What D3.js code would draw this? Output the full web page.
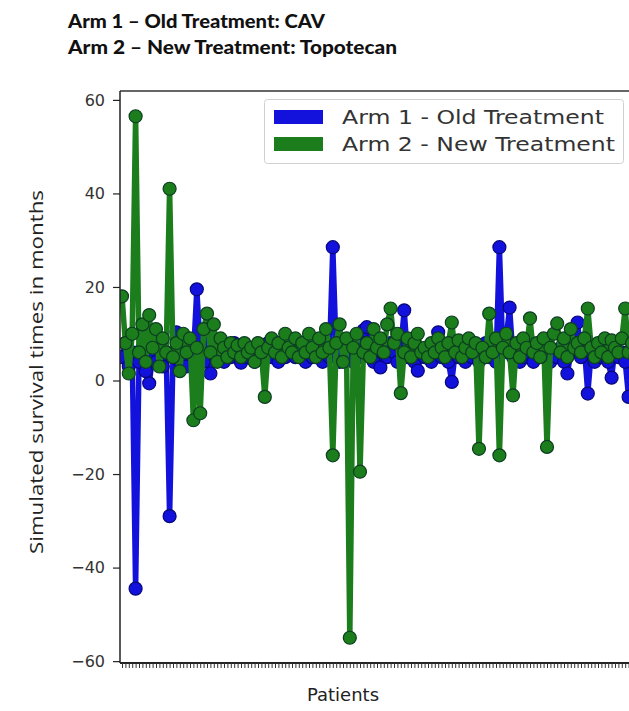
<!DOCTYPE html>
<html><head><meta charset="utf-8">
<script src="https://cdn.jsdelivr.net/npm/d3@7"></script>
<style>body{margin:0;background:#fff}svg{display:block}</style>
</head><body>
<script>
const titleLines = ["Arm 1 \u2013 Old Treatment: CAV", "Arm 2 \u2013 New Treatment: Topotecan"];
const seriesNames = ["Arm 1 - Old Treatment", "Arm 2 - New Treatment"];
const yTicks = [60, 40, 20, 0, -20, -40, -60];
const arm1 = [5,8,3,6,-44.5,4,7,2,-0.6,5,4,9,3,6,-29,5,10.3,4,7,3,6,5,19.5,7,4,8,1.5,6,5,7,
4,6,5,8,6,3.8,7,5,6,4,7,5,6,8,5,7,4,6,5,7,6,5,7.9,6,4,7,5,8,6,4,
7,5,28.5,6,4,8,5,7,4,6,5,10.7,11.4,6,4,7,2.8,6,5,8,6,4,7,15,5,7,4,2.1,6,5,
7,4,6,10.3,5,7,4,-0.3,6,5,7,4,6,5,7,4,6,8,5,7,4,28.5,6,9,15.6,5,7,4,6,5,
7,4,6,8,5,7,4,6,5,7,4,1.5,6,8,12.4,5,7,-2.8,6,4,7,5,6,4,0.6,7,5,6,4,-3.5,
6,5];
const arm2 = [18,8,1.5,10,56.5,6,12,4,14,7,11,3,9,6,41,5,8,2,10,6,9,-8.5,7,-7,11,14.3,6,12,4,9,
7,5,8,6,7.5,5,8,6,7,4,8,6,-3.5,7,9,6,8,5,10,7,6,9,5,8,6,10,7,5,9,6,
11,7,-16,8,12,4,9,-55,7,10,-19.5,6,8,5,11,7,9,6,12,15.4,8,10,-2.7,6,9,5,8,10,6,7,
5,8,6,9,7,5,8,12.4,6,8.6,5,7,9,6,8,-14.6,7,5,14.3,6,9,-16,7,10,6,-3.2,8,5,9,7,
13.3,6,8,5,9,-14.2,7,10,12.2,6,9,5,11,7,8,6,9,15.4,7,5,8,6,9,5,8.6,7,6,9,15.4,6,
8,5];
const patients = d3.range(arm1.length);

const W = 629, H = 711;
const m = {left:120, top:91, bottom:663, right:636};
const svg = d3.select("body").append("svg").attr("width", W).attr("height", H);

const x = d3.scaleLinear().domain([0, patients.length - 1]).range([122, 635.4]);
const y = d3.scaleLinear().domain([-60.4, 61.9]).range([m.bottom, m.top]);

// titles
svg.selectAll("text.title").data(titleLines).enter().append("text")
  .attr("x", 68).attr("y", (d,i) => 28 + i*26)
  .attr("font-family", "Lato, 'Open Sans', sans-serif").attr("font-weight", 900)
  .attr("font-size", 18).attr("fill", "#111")
  .attr("textLength", (d,i) => i === 0 ? 257 : 329).attr("lengthAdjust", "spacingAndGlyphs")
  .text(d => d);

// clip
svg.append("clipPath").attr("id", "clip").append("rect")
  .attr("x", m.left).attr("y", m.top).attr("width", m.right - m.left).attr("height", m.bottom - m.top);

const plot = svg.append("g").attr("clip-path", "url(#clip)");
const series = [
  {vals: arm1, color: "#1212dc", edge: "#08087a"},
  {vals: arm2, color: "#1b7d1b", edge: "#0d3d22"}
];
const line = d3.line().x((d,i) => x(i)).y(d => y(d));
series.forEach(s => {
  plot.append("path").datum(s.vals).attr("d", line)
    .attr("fill", "none").attr("stroke", s.color).attr("stroke-width", 5.5)
    .attr("stroke-linejoin", "round");
  plot.append("g").selectAll("circle").data(s.vals).enter().append("circle")
    .attr("cx", (d,i) => x(i)).attr("cy", d => y(d)).attr("r", 6.5)
    .attr("fill", s.color).attr("stroke", s.edge).attr("stroke-width", 1.2);
});

// frame
svg.append("line").attr("x1", m.left).attr("x2", W).attr("y1", m.top).attr("y2", m.top)
  .attr("stroke", "#333").attr("stroke-width", 1.5);

// y axis
const yAxis = svg.append("g").attr("transform", `translate(${m.left},0)`)
  .call(d3.axisLeft(y).tickValues(yTicks).tickSize(7).tickPadding(8)
        .tickFormat(d => d < 0 ? "\u2212" + Math.abs(d) : d));
yAxis.select(".domain").attr("stroke", "#222").attr("stroke-width", 1.5)
  .attr("d", `M0,${m.top}V${m.bottom}`);
yAxis.selectAll(".tick line").attr("stroke", "#222").attr("stroke-width", 1.2);
yAxis.selectAll(".tick text").attr("font-family", "DejaVu Sans, sans-serif")
  .attr("font-size", 16).attr("fill", "#333");

// x axis
const xAxis = svg.append("g").attr("transform", `translate(0,${m.bottom})`)
  .call(d3.axisBottom(x).tickValues(patients).tickSize(5).tickFormat(""));
xAxis.select(".domain").attr("stroke", "#222").attr("stroke-width", 1.8)
  .attr("d", `M${m.left},0H${W}`);
xAxis.selectAll(".tick line").attr("stroke", "#333").attr("stroke-width", 1);

// axis labels
svg.append("text").attr("transform", "translate(43,372) rotate(-90)")
  .attr("text-anchor", "middle").attr("font-family", "'Open Sans', Lato, sans-serif")
  .attr("font-size", 19).attr("fill", "#222")
  .attr("textLength", 364).attr("lengthAdjust", "spacingAndGlyphs")
  .text("Simulated survival times in months");
svg.append("text").attr("x", 343).attr("y", 701).attr("text-anchor", "middle")
  .attr("font-family", "DejaVu Sans, sans-serif").attr("font-size", 18).attr("fill", "#222")
  .text("Patients");

// legend
const lg = svg.append("g");
lg.append("rect").attr("x", 264.5).attr("y", 99.5).attr("width", 359).attr("height", 64)
  .attr("rx", 3).attr("fill", "#fff").attr("fill-opacity", 0.9).attr("stroke", "#d0d0d0");
seriesNames.forEach((n,i) => {
  lg.append("rect").attr("x", 274).attr("y", 110 + i*27).attr("width", 49).attr("height", 14)
    .attr("fill", series[i].color);
  lg.append("text").attr("x", 342).attr("y", 124 + i*27)
    .attr("font-family", "DejaVu Sans, sans-serif").attr("font-size", 19).attr("fill", "#333")
    .attr("textLength", i === 0 ? 262 : 273).attr("lengthAdjust", "spacingAndGlyphs")
    .text(n);
});
</script>
</body></html>
